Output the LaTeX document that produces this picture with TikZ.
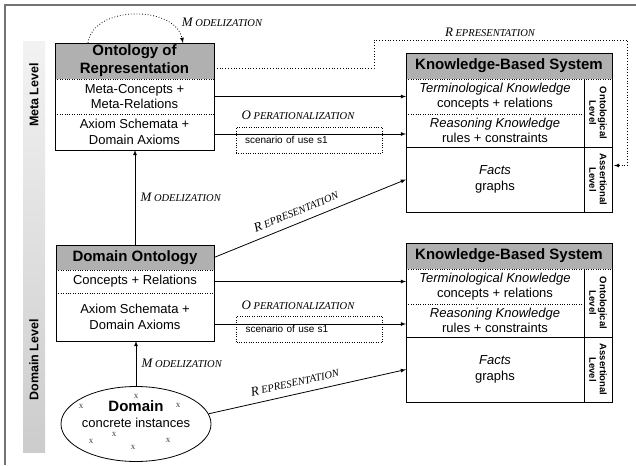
\documentclass[tikz,border=0pt]{standalone}
\usepackage{fontspec}
\setmainfont{Liberation Sans}
\newfontfamily\relfont{Liberation Serif}
\usetikzlibrary{positioning, calc}
\usetikzlibrary{shapes.geometric}
\usetikzlibrary{arrows}

\newcommand{\conlabel}[2]{{\relfont\itshape\fontsize{13}{13}\selectfont #1\hspace{2.5pt}\fontsize{10.5}{10.5}\selectfont #2}}

\begin{document}
\begin{tikzpicture}[x=1pt, y=-1pt,
    hdr/.style={fill=black!31, outer sep=0pt, inner sep=0pt, align=center, font=\bfseries\fontsize{15}{18}\selectfont},
    cell/.style={outer sep=0pt, inner sep=0pt, align=center, font=\fontsize{13}{15.5}\selectfont},
    side/.style={outer sep=0pt, inner sep=0pt, align=center, font=\bfseries\fontsize{9.5}{10.5}\selectfont},
    scen/.style={draw, dotted, minimum height=26pt, inner xsep=9pt, text width=128pt, align=left, font=\fontsize{10}{12}\selectfont},
    conn/.style={-latex, line width=0.8pt},
    xmark/.style={font=\relfont\fontsize{9}{9}\selectfont, text=black!75}]
    \useasboundingbox (0,0) rectangle (636,465);
    % frame and level bar
    \draw[black!55, line width=1.5pt] (5,465) -- (5,5) -- (636,5);
    \shade[top color=black!5, bottom color=black!20] (23,42) rectangle (45,452);
    \node[rotate=90, font=\bfseries\fontsize{12.5}{15}\selectfont] (meta) at (34,95) {Meta Level};
    \node[rotate=90, font=\bfseries\fontsize{12.5}{15}\selectfont] (dlev) at (34,360) {Domain Level};

    % ontology of representation
    \node[hdr, minimum width=159pt, minimum height=36pt] (orep) at (134.5,61) {Ontology of\\Representation};
    \node[cell, minimum width=159pt, minimum height=35pt, below=0pt of orep] (orep-mc) {Meta-Concepts +\\Meta-Relations};
    \node[cell, minimum width=159pt, minimum height=36pt, below=0pt of orep-mc] (orep-ax) {Axiom Schemata +\\Domain Axioms};
    \draw[line width=0.8pt] (orep.north west) rectangle (orep-ax.south east);
    \draw[dotted] (orep.south west) -- (orep.south east);
    \draw[dotted] (orep-mc.south west) -- (orep-mc.south east);

    % domain ontology
    \node[hdr, minimum width=158pt, minimum height=25pt] (dont) at (135,257.5) {Domain Ontology};
    \node[cell, minimum width=158pt, minimum height=23pt, below=0pt of dont] (dont-cr) {Concepts + Relations};
    \node[cell, minimum width=158pt, minimum height=48pt, below=0pt of dont-cr] (dont-ax) {Axiom Schemata +\\Domain Axioms};
    \draw[line width=0.8pt] (dont.north west) rectangle (dont-ax.south east);
    \draw[dotted] (dont.south west) -- (dont.south east);
    \draw[dotted] (dont-cr.south west) -- (dont-cr.south east);

    % domain
    \node[draw, ellipse, line width=0.8pt, minimum width=150pt, minimum height=75pt, inner sep=0pt] (dom) at (136,424) {};
    \node[cell] (dom-txt) at (136,414) {\textbf{\fontsize{15}{17}\selectfont Domain}\\concrete instances};
    \foreach \p in {(136,396),(81,406),(178,405),(114,434),(91,441),(133,447),(168,440)}
        \node[xmark] at \p {x};

    % knowledge-based systems
    \foreach \i/\y in {1/66,2/256}{
        \node[hdr, minimum width=206pt, minimum height=26pt] (kbs\i) at (509,\y) {Knowledge-Based System};
        \node[cell, minimum width=178pt, minimum height=35pt, anchor=north west] (kbs\i-t) at (kbs\i.south west) {\textit{Terminological Knowledge}\\concepts + relations};
        \node[cell, minimum width=178pt, minimum height=33pt, below=0pt of kbs\i-t] (kbs\i-r) {\textit{Reasoning Knowledge}\\rules + constraints};
        \node[cell, minimum width=178pt, minimum height=65pt, below=0pt of kbs\i-r] (kbs\i-f) {\textit{Facts}\\graphs};
        \node[side, rotate=-90] (kbs\i-o) at ($(kbs\i-t.north east)!0.5!(kbs\i-r.south east)+(14,0)$) {Ontological\\Level};
        \node[side, rotate=-90] (kbs\i-a) at ($(kbs\i-f.east)+(14,0)$) {Assertional\\Level};
        \draw[line width=0.8pt] (kbs\i.north west) rectangle (kbs\i-f.south -| kbs\i.east);
        \draw[dotted] (kbs\i.south west) -- (kbs\i.south east);
        \draw[dotted] (kbs\i-t.south west) -- (kbs\i-t.south east);
        \draw[line width=0.8pt] (kbs\i-f.north west) -- (kbs\i-f.north -| kbs\i.east);
        \draw[line width=0.8pt] (kbs\i-t.north east) -- (kbs\i-f.south east);
    }

    % meta level connectors
    \draw[dotted, -latex, line width=0.8pt] ([xshift=33pt]orep.north west) .. controls +(5,-38) and +(-8,-38) .. ([xshift=-31pt]orep.north east);
    \node (mod0) at (222,22) {\conlabel{M}{ODELIZATION}};
    \draw[conn] (orep-mc.east) -- (orep-mc.east -| kbs1-t.west);
    \coordinate (op1-s) at ([yshift=-2pt]orep-ax.east);
    \draw[conn] (op1-s) -- (op1-s -| kbs1-r.west);
    \node (op1) at (298,115) {\conlabel{O}{PERATIONALIZATION}};
    \node[scen] (sc1) at (309,140) {\raisebox{-3pt}{scenario of use s1}};
    \coordinate (rep-a) at (374,40);
    \coordinate (rep-b) at (627,40);
    \draw[dotted, -latex, line width=0.8pt] ([yshift=11pt]orep.south east) -| (rep-a) -- (rep-b) |- ($(kbs1.east |- kbs1-f.east)+(2,-14)$);
    \node (rep0) at (490,32) {\conlabel{R}{EPRESENTATION}};

    % domain level connectors
    \draw[conn] (dont.north) -- (dont.north |- orep-ax.south) node[midway, right=2pt] (mod1) {\conlabel{M}{ODELIZATION}};
    \draw[conn] (dont.east) -- (kbs1-f.west) node[pos=0.45, above=4pt, sloped] (rep1) {\conlabel{R}{EPRESENTATION}};
    \draw[conn] (dont-cr.east) -- (dont-cr.east -| kbs2-t.west);
    \coordinate (op2-s) at ([yshift=-7pt]dont-ax.east);
    \draw[conn] (op2-s) -- (op2-s -| kbs2-r.west);
    \node (op2) at (298,305) {\conlabel{O}{PERATIONALIZATION}};
    \node[scen] (sc2) at (309.5,329) {\raisebox{-3pt}{scenario of use s1}};
    \draw[conn] (dom.north) -- (dom.north |- dont-ax.south) node[midway, right=2pt] (mod2) {\conlabel{M}{ODELIZATION}};
    \draw[conn] (dom.8) -- (kbs2-f.west) node[pos=0.45, above=4pt, sloped] (rep2) {\conlabel{R}{EPRESENTATION}};
\end{tikzpicture}
\end{document}
